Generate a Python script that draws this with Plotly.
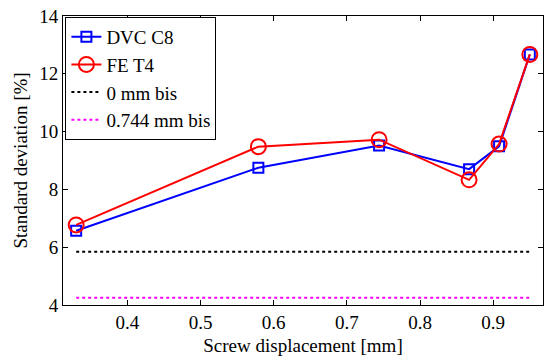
import plotly.graph_objects as go

x_disp = [0.330, 0.579, 0.744, 0.867, 0.908, 0.950]
dvc_c8 = [6.57, 8.75, 9.52, 8.70, 9.49, 12.67]
fe_t4 = [6.77, 9.48, 9.72, 8.33, 9.57, 12.67]
bis_x = [0.330, 0.950]
bis_0mm = [5.84, 5.84]
bis_0744mm = [4.25, 4.25]

fig = go.Figure()
fig.add_trace(go.Scatter(x=x_disp, y=dvc_c8, mode="lines+markers", name="DVC C8",
                         line=dict(color="#0000ff", width=2),
                         marker=dict(symbol="square-open", size=10, color="#0000ff", line=dict(width=2))))
fig.add_trace(go.Scatter(x=x_disp, y=fe_t4, mode="lines+markers", name="FE T4",
                         line=dict(color="#ff0000", width=2),
                         marker=dict(symbol="circle-open", size=15, color="#ff0000", line=dict(width=2))))
fig.add_trace(go.Scatter(x=bis_x, y=bis_0mm, mode="lines", name="0 mm bis",
                         line=dict(color="black", width=2, dash="dot")))
fig.add_trace(go.Scatter(x=bis_x, y=bis_0744mm, mode="lines", name="0.744 mm bis",
                         line=dict(color="#ff00ff", width=2, dash="dot")))

font = dict(family="Liberation Serif", size=19, color="black")
axis_common = dict(showline=True, linecolor="black", linewidth=1, mirror="ticks",
                   ticks="inside", ticklen=5, tickcolor="black", showgrid=False,
                   zeroline=False, tickfont=font)
fig.update_layout(
    width=544, height=360,
    margin=dict(l=63, r=1, t=16, b=55),
    plot_bgcolor="white", paper_bgcolor="white",
    font=font,
    xaxis=dict(range=[0.312, 0.968], tickvals=[0.4, 0.5, 0.6, 0.7, 0.8, 0.9],
               title=dict(text="Screw displacement [mm]", font=font, standoff=6), **axis_common),
    yaxis=dict(range=[4, 14], tickvals=[4, 6, 8, 10, 12, 14],
               title=dict(text="Standard deviation [%]", font=font, standoff=6), **axis_common),
    legend=dict(x=0.005, y=0.997, xanchor="left", yanchor="top", bgcolor="white",
                bordercolor="black", borderwidth=1, font=font, itemwidth=30,
                tracegroupgap=0),
    showlegend=True,
)
fig.write_html("out.html")
